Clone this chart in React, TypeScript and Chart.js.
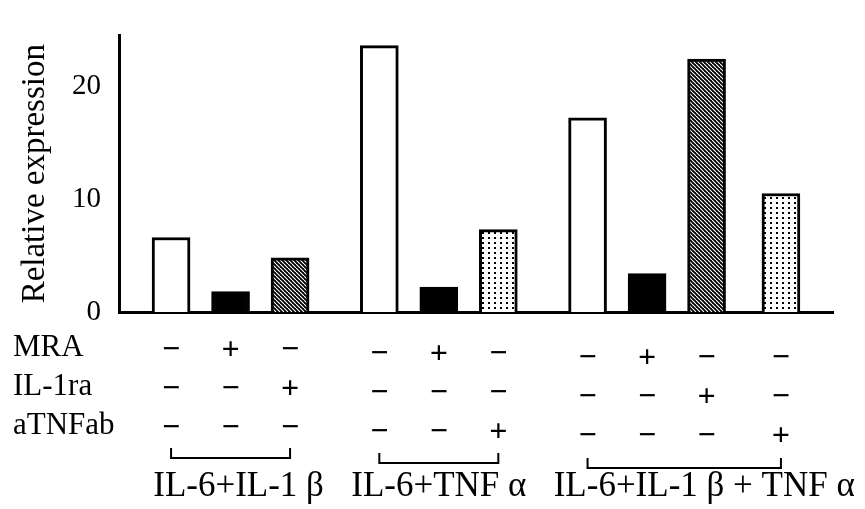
import React, { useEffect, useRef } from "react";
import { Chart, registerables } from "chart.js";

Chart.register(...registerables);

// ---------- data ----------
const conditions = ["IL-6+IL-1 β", "IL-6+TNF α", "IL-6+IL-1 β + TNF α"];
const barGroup = [0, 0, 0, 1, 1, 1, 2, 2, 2, 2];
const barTreatment = ["none", "MRA", "IL-1ra", "none", "MRA", "aTNFab", "none", "MRA", "IL-1ra", "aTNFab"];
const values = [6.6, 1.8, 4.8, 23.6, 2.2, 7.3, 17.2, 3.4, 22.4, 10.5];
const rowLabels = ["MRA", "IL-1ra", "aTNFab"];
const yTicks = [0, 10, 20];
const yTitle = "Relative expression";

// ---------- layout (not data) ----------
const emptySlotsBefore = [3, 3, 3, 5, 3, 3, 5, 3, 3, 4];
const trailingSlots = 3;
const FONT = '"Liberation Serif", "Times New Roman", serif';

function makeHatch(): CanvasPattern | string {
  const c = document.createElement("canvas");
  c.width = 4;
  c.height = 4;
  const g = c.getContext("2d");
  if (!g) return "#555";
  g.fillStyle = "#000";
  g.fillRect(0, 0, 4, 4);
  g.strokeStyle = "#fff";
  g.lineWidth = 1.1;
  for (const k of [-4, 0, 4]) {
    g.beginPath();
    g.moveTo(k, 0);
    g.lineTo(k + 4, 4);
    g.stroke();
  }
  return g.createPattern(c, "repeat") || "#555";
}

function makeDots(): CanvasPattern | string {
  const c = document.createElement("canvas");
  c.width = 6;
  c.height = 5;
  const g = c.getContext("2d");
  if (!g) return "#ddd";
  g.fillStyle = "#fff";
  g.fillRect(0, 0, 6, 5);
  g.fillStyle = "#000";
  g.fillRect(2, 2, 2, 2);
  return g.createPattern(c, "repeat") || "#ddd";
}

export default function App() {
  const ref = useRef<HTMLCanvasElement | null>(null);

  useEffect(() => {
    document.body.style.margin = "0";
    const canvas = ref.current;
    if (!canvas) return;

    const fills: Record<string, CanvasPattern | string> = {
      none: "#ffffff",
      MRA: "#000000",
      "IL-1ra": makeHatch(),
      aTNFab: makeDots(),
    };

    const slotLabels: string[] = [];
    const slotValues: (number | null)[] = [];
    const slotFills: (CanvasPattern | string)[] = [];
    const barSlot: number[] = [];
    values.forEach((v, i) => {
      for (let k = 0; k < emptySlotsBefore[i]; k++) {
        slotLabels.push("");
        slotValues.push(null);
        slotFills.push("#fff");
      }
      barSlot.push(slotLabels.length);
      slotLabels.push(conditions[barGroup[i]] + " / " + barTreatment[i]);
      slotValues.push(v);
      slotFills.push(fills[barTreatment[i]]);
    });
    for (let k = 0; k < trailingSlots; k++) {
      slotLabels.push("");
      slotValues.push(null);
      slotFills.push("#fff");
    }

    const tablePlugin = {
      id: "treatmentTable",
      afterDraw(chart: any) {
        const ctx = chart.ctx as CanvasRenderingContext2D;
        const xs = chart.scales.x;
        const cx = barSlot.map((s) => xs.getPixelForValue(s));
        const rowY = [348, 387, 426];
        const groupShift = [0, 4, 8];
        ctx.save();
        ctx.fillStyle = "#000";
        ctx.strokeStyle = "#000";
        // row labels
        ctx.font = `31px ${FONT}`;
        ctx.textAlign = "left";
        ctx.textBaseline = "middle";
        rowLabels.forEach((r, ri) => ctx.fillText(r, 13, rowY[ri]));
        // signs
        ctx.textAlign = "center";
        ctx.font = `bold 32px ${FONT}`;
        values.forEach((_, i) => {
          rowLabels.forEach((r, ri) => {
            const s = barTreatment[i] === r ? "+" : "−";
            ctx.fillText(s, cx[i], rowY[ri] + 3 + groupShift[barGroup[i]]);
          });
        });
        // brackets + group labels
        const bracketY = [458, 463, 468];
        const labelDx = [8, 0, 20];
        ctx.lineWidth = 2;
        conditions.forEach((cond, gi) => {
          const idx = barGroup.map((g, i) => (g === gi ? i : -1)).filter((i) => i >= 0);
          const x0 = cx[idx[0]];
          const x1 = cx[idx[idx.length - 1]];
          const y = bracketY[gi];
          ctx.beginPath();
          ctx.moveTo(x0, y - 10);
          ctx.lineTo(x0, y);
          ctx.lineTo(x1, y);
          ctx.lineTo(x1, y - 10);
          ctx.stroke();
          ctx.font = `35px ${FONT}`;
          ctx.textAlign = "center";
          ctx.textBaseline = "alphabetic";
          ctx.fillText(cond, (x0 + x1) / 2 + labelDx[gi], 496);
        });
        ctx.restore();
      },
    };

    const chart = new Chart(canvas, {
      type: "bar",
      data: {
        labels: slotLabels,
        datasets: [
          {
            data: slotValues,
            backgroundColor: slotFills as any,
            borderColor: "#000",
            borderWidth: 3,
            barThickness: 38,
            borderSkipped: "start",
          },
        ],
      },
      options: {
        responsive: false,
        animation: false,
        devicePixelRatio: 1,
        layout: { padding: { left: 0, top: 10, right: 32, bottom: 197 } },
        plugins: { legend: { display: false }, tooltip: { enabled: false } },
        scales: {
          x: {
            ticks: { display: false },
            grid: { display: false, drawTicks: false },
            border: { color: "#000", width: 3 },
            afterFit(s: any) {
              s.height = 0;
            },
          },
          y: {
            min: 0,
            max: 24.5,
            afterBuildTicks(s: any) {
              s.ticks = yTicks.map((v) => ({ value: v }));
            },
            ticks: { color: "#000", font: { family: FONT, size: 29 }, padding: 18 },
            grid: { display: false, drawTicks: false },
            border: { color: "#000", width: 3 },
            title: {
              display: true,
              text: yTitle,
              color: "#000",
              font: { family: FONT, size: 33 },
              padding: { top: 16, bottom: 0 },
            },
            afterFit(s: any) {
              s.width = 119;
            },
          },
        },
      },
      plugins: [tablePlugin],
    });
    return () => chart.destroy();
  }, []);

  return (
    <div style={{ width: 865, height: 509, background: "#fff" }}>
      <canvas ref={ref} width={865} height={509} style={{ display: "block" }} />
    </div>
  );
}
